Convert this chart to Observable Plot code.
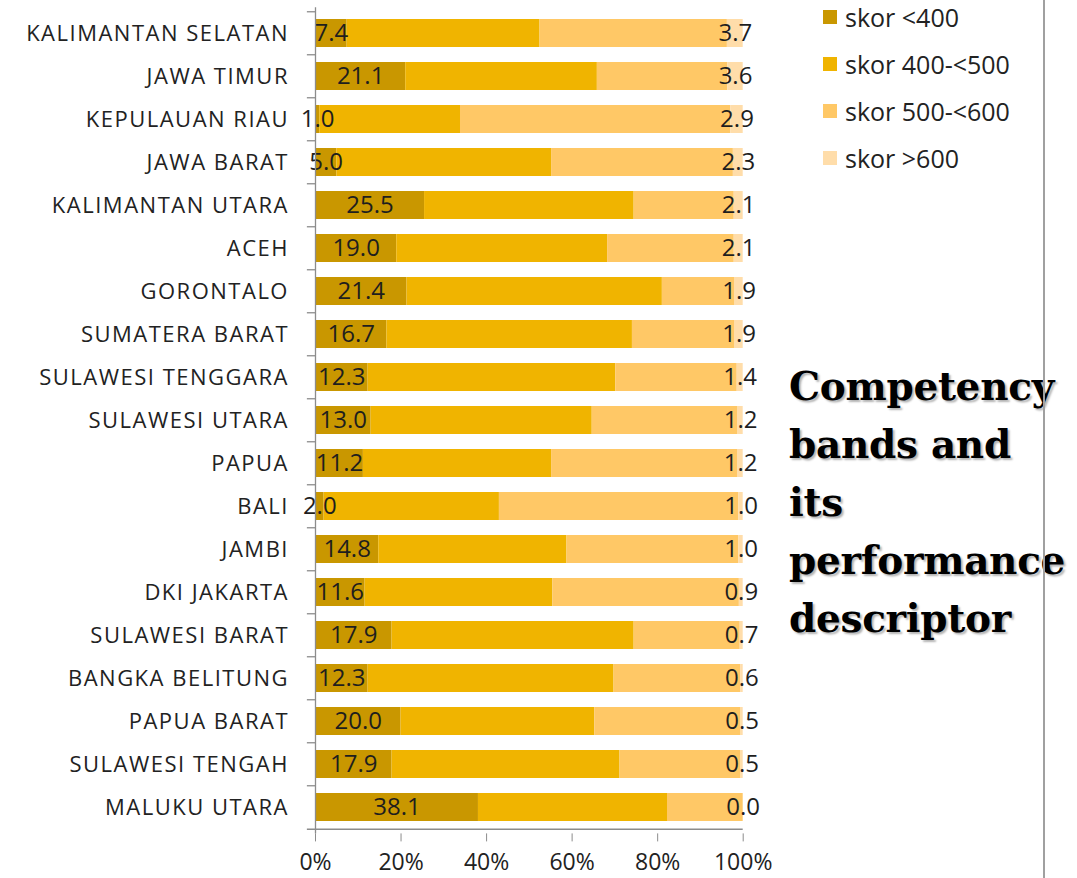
<!DOCTYPE html>
<html>
<head>
<meta charset="utf-8">
<script src="https://cdn.jsdelivr.net/npm/d3@7"></script>
<script src="https://cdn.jsdelivr.net/npm/@observablehq/plot@0.6"></script>
<style>
  html, body { margin: 0; padding: 0; background: #fff; }
  body { width: 1077px; height: 878px; position: relative; overflow: hidden; font-family: "Open Sans", sans-serif; }
  #chart { position: absolute; left: 0; top: 0; }
  #legend { position: absolute; left: 822.5px; top: 0; font-size: 25px; color: #222; }
  .lg { position: absolute; left: 0; white-space: nowrap; display: flex; align-items: center; height: 30px; }
  .sw { width: 14.5px; height: 14.5px; margin-right: 8px; }
  #title { position: absolute; left: 789px; top: 357px; font-family: "DejaVu Serif", serif; font-weight: bold; font-size: 39px; line-height: 58px; letter-spacing: -0.3px; color: #000; text-shadow: 2px 2px 2px rgba(0,0,0,0.3); }
  #vline { position: absolute; left: 1043px; top: 0; width: 1.5px; height: 878px; background: #a0a0a0; }
</style>
</head>
<body>
<div id="chart"></div>
<div id="legend"></div>
<div id="title">Competency<br>bands and<br>its<br>performance<br>descriptor</div>
<div id="vline"></div>
<script>
const provinces = ["KALIMANTAN SELATAN","JAWA TIMUR","KEPULAUAN RIAU","JAWA BARAT","KALIMANTAN UTARA","ACEH","GORONTALO","SUMATERA BARAT","SULAWESI TENGGARA","SULAWESI UTARA","PAPUA","BALI","JAMBI","DKI JAKARTA","SULAWESI BARAT","BANGKA BELITUNG","PAPUA BARAT","SULAWESI TENGAH","MALUKU UTARA"];
const bands = ["skor <400","skor 400-<500","skor 500-<600","skor >600"];
const colors = ["#C99700","#F0B400","#FFC866","#FFDDAA"];
const skorBelow400 = [7.4,21.1,1.0,5.0,25.5,19.0,21.4,16.7,12.3,13.0,11.2,2.0,14.8,11.6,17.9,12.3,20.0,17.9,38.1];
const skor400to500 = [45.1,44.8,32.9,50.2,49.0,49.3,59.7,57.4,57.9,51.7,44.0,41.0,44.0,43.9,56.6,57.5,45.3,53.3,44.2];
const skor500to600 = [43.8,30.5,63.2,42.5,23.4,29.6,17.0,24.0,28.4,34.1,43.6,56.0,40.2,43.6,24.8,29.6,34.2,28.3,17.7];
const skorAbove600 = [3.7,3.6,2.9,2.3,2.1,2.1,1.9,1.9,1.4,1.2,1.2,1.0,1.0,0.9,0.7,0.6,0.5,0.5,0.0];
const xTicks = [0,20,40,60,80,100];

const series = [skorBelow400, skor400to500, skor500to600, skorAbove600];
const labelled = [true, false, false, true];
const table = [];
provinces.forEach((p, i) => {
  series.forEach((s, k) => {
    table.push({province: p, band: bands[k], value: s[i], label: labelled[k] ? s[i].toFixed(1) : ""});
  });
});

const W = 1077, H = 878;
const mTop = 7.3, mBottom = 44.6, mLeft = 315, mRight = W - 742.7;
const step = (H - mBottom - mTop) / provinces.length;
const axisGrey = "#8c8c8c";

const chart = Plot.plot({
  width: W,
  height: H,
  marginTop: mTop,
  marginBottom: mBottom,
  marginLeft: mLeft,
  marginRight: mRight,
  style: {fontFamily: "Open Sans, sans-serif", fontSize: "21px", color: "#222", background: "transparent"},
  x: {domain: [0, 100], axis: null},
  y: {domain: provinces, paddingInner: 0.34, paddingOuter: 0.17, axis: null},
  color: {domain: bands, range: colors},
  marks: [
    Plot.barX(table, Plot.stackX({x: "value", y: "province", fill: "band", z: "band"})),
    Plot.text(table, Plot.stackX({x: "value", y: "province", z: "band", text: "label", fill: "#1e1e1e", fontSize: 24})),
    Plot.ruleX([0], {stroke: axisGrey, strokeWidth: 1.3}),
    Plot.ruleY(provinces, {y: d => d, x1: -1.9, x2: 0, dy: -step / 2, stroke: axisGrey, strokeWidth: 1.3}),
    Plot.ruleY(provinces.slice(-1), {y: d => d, x1: -1.9, x2: 100, dy: step / 2, stroke: axisGrey, strokeWidth: 1.3}),
    Plot.axisY({tickSize: 0, tickPadding: 26.5, label: null, fontSize: 22, fill: "#222"}),
    Plot.axisX({ticks: xTicks, tickFormat: d => d + "%", tickSize: 8, tickPadding: 12, label: null, fontSize: 23, stroke: axisGrey, fill: "#222"})
  ]
});
document.getElementById("chart").appendChild(chart);
chart.querySelectorAll("[aria-label='y-axis tick label'] text").forEach(t => t.style.letterSpacing = "1.5px");

const legend = document.getElementById("legend");
const legendCenters = [17, 64, 111, 158];
bands.forEach((b, k) => {
  const row = document.createElement("div");
  row.className = "lg";
  row.style.top = (legendCenters[k] - 15) + "px";
  row.innerHTML = `<span class="sw" style="background:${colors[k]}"></span><span>${b}</span>`;
  legend.appendChild(row);
});
</script>
</body>
</html>
